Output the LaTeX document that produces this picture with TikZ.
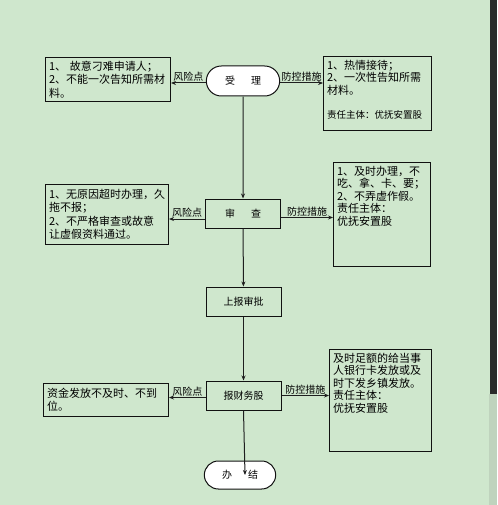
\documentclass[tikz,border=0pt]{standalone}
\usepackage{fontspec}
\setmainfont{Noto Sans CJK SC}
\usetikzlibrary{arrows.meta,positioning,calc,shapes.misc}
\definecolor{paper}{HTML}{CFE7CD}
\definecolor{ink}{HTML}{111111}
\definecolor{wire}{HTML}{1E1E1E}
\definecolor{scrollthumb}{HTML}{2B2B2B}
\definecolor{track}{HTML}{BFD3BD}
\tikzset{
  term/.style={rounded rectangle,draw=ink,line width=1pt,fill=white,minimum width=80pt,
    minimum height=30pt,font=\fontsize{10}{12}\selectfont},
  proc/.style={draw=ink,line width=1pt,minimum width=75pt,minimum height=29pt,
    font=\fontsize{10}{12}\selectfont},
  memo/.style={draw=ink,line width=1pt,anchor=north west,align=left,inner sep=3.5pt,
    font=\fontsize{11}{13.5}\selectfont},
  arr/.style={-{Stealth[length=5pt,width=4pt]},line width=1pt,draw=wire},
  tag/.style={above,inner sep=1pt,font=\fontsize{10}{11}\selectfont}
}
\newcommand{\memotop}[3]{\parbox[c][#2][t]{#1}{\raggedright\fontsize{11}{12.5}\selectfont #3}}

\begin{document}
\begin{tikzpicture}[x=1pt,y=-1pt]
  \useasboundingbox[fill=paper] (0,0) rectangle (497,505);

  % main column
  \node[term] (start) at (243,81) {受\hspace{1.6em}理};
  \node[proc] (check) at (243,213.5) {审\hspace{1.6em}查};
  \node[proc] (report) at (243.5,301.5) {上报审批};
  \node[proc] (fin) at (243.5,395.5) {报财务股};
  \node[term,minimum width=78pt,minimum height=28pt] (done) at (240,475) {办\hspace{1.6em}结};

  \draw[arr] (start) -- (check);
  \draw[arr] (check) -- (report);
  \draw[arr] (report) -- (fin);
  \coordinate (endtip) at (245,475);
  \draw[arr] (fin.south) -- (endtip);

  % risk boxes
  \node[memo,text width=118pt,minimum height=44pt] (risk1) at (45,57)
    {1、 故意刁难申请人；\\2、不能一次告知所需材\\料。};
  \node[memo,text width=116pt,minimum height=60pt] (risk2) at (45,184)
    {1、无原因超时办理，久\\拖不报；\\2、不严格审查或故意\\让虚假资料通过。};
  \node[memo,text width=118pt,minimum height=33pt] (risk3) at (43,383)
    {资金发放不及时、不到\\位。};

  % control boxes
  \node[memo] (ctrl1) at (323,56)
    {\memotop{101pt}{67pt}{1、热情接待；\\2、一次性告知所需\\材料。\\[12pt]{\fontsize{9.5}{12}\selectfont 责任主体：优抚安置股}}};
  \node[memo] (ctrl2) at (333,162)
    {\memotop{90pt}{97pt}{1、及时办理，不\\吃、拿、卡、要；\\2、不弄虚作假。\\责任主体：\\优抚安置股}};
  \node[memo] (ctrl3) at (329,349)
    {\memotop{95pt}{95pt}{及时足额的给当事\\人银行卡发放或及\\时下发乡镇发放。\\责任主体：\\优抚安置股}};

  % risk / control links
  \coordinate (l1) at ($(start.west)+(0,2)$);
  \coordinate (r1) at ($(start.east)+(0,2)$);
  \draw[arr] (l1) -- (l1 -| risk1.east) node[midway,tag] {风险点};
  \draw[arr] (r1) -- (r1 -| ctrl1.west) node[midway,tag] {防控措施};

  \coordinate (l2) at ($(check.west)+(0,5.5)$);
  \coordinate (r2) at ($(check.east)+(0,4)$);
  \draw[arr] (l2) -- (l2 -| risk2.east) node[midway,tag] {风险点};
  \draw[arr] (r2) -- (r2 -| ctrl2.west) node[midway,tag] {防控措施};

  \coordinate (l3) at ($(fin.west)+(0,2)$);
  \coordinate (r3) at ($(fin.east)+(0,0)$);
  \draw[arr] (l3) -- (l3 -| risk3.east) node[midway,tag] {风险点};
  \draw[arr] (r3) -- (r3 -| ctrl3.west) node[midway,tag] {防控措施};

  % window scroll bar
  \fill[track] (489,394) rectangle (497,505);
  \fill[scrollthumb] (490,0) rectangle (497,394);
\end{tikzpicture}
\end{document}
